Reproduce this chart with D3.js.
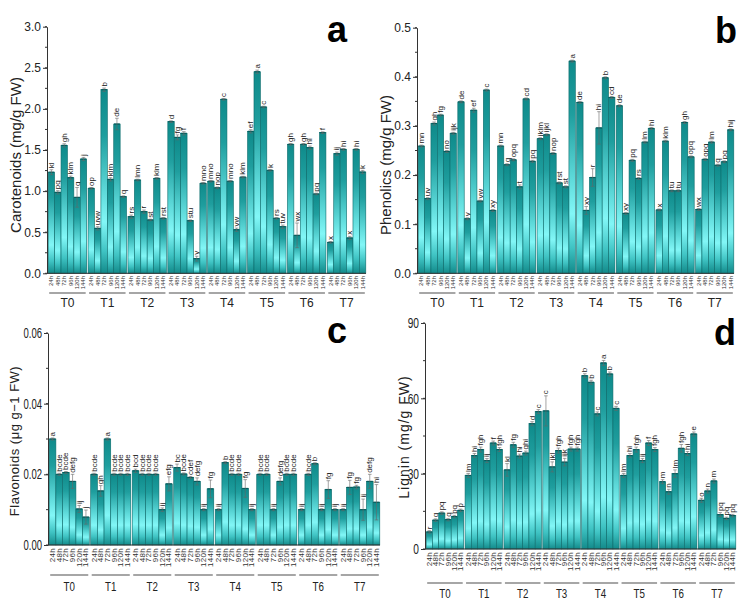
<!DOCTYPE html>
<html><head><meta charset="utf-8">
<script src="https://cdn.jsdelivr.net/npm/d3@7"></script>
<style>body{margin:0;background:#fff}svg{display:block}</style>
</head><body><svg id="c" width="754" height="613"></svg>
<script>
const groups = ["T0","T1","T2","T3","T4","T5","T6","T7"];
const times = ["24h","48h","72h","96h","120h","144h"];

// Panel a: Carotenoids (mg/g FW)
const carotenoids = [
  [1.23,0.985,1.556,1.163,0.924,1.39],
  [1.034,0.547,2.234,1.143,1.816,0.932],
  [0.689,1.135,0.75,0.649,1.155,0.669],
  [1.845,1.654,1.703,0.64,0.178,1.095],
  [1.12,1.04,2.117,1.12,0.53,1.17],
  [1.727,2.452,2.023,1.253,0.669,0.567],
  [1.569,0.462,1.569,1.528,0.965,1.711],
  [0.377,1.455,1.508,0.43,1.508,1.232]
];
const carotenoidsErr = [
  [0.03,0.02,0.02,0.02,0.12,0.02],
  [0.01,0.02,0.02,0.02,0.07,0.01],
  [0.02,0.01,0.02,0.01,0.01,0.01],
  [0.01,0.03,0.02,0.01,0.03,0.01],
  [0.01,0.01,0.01,0.01,0.02,0.01],
  [0.02,0.02,0.01,0.01,0.01,0.02],
  [0.01,0.15,0.01,0.02,0.01,0.01],
  [0.01,0.02,0.01,0.02,0.01,0.02]
];
const carotenoidsLetters = [
  ["kl","pq","gh","klm","q","j"],
  ["op","uvw","b","klm","de","q"],
  ["rs","lmn","r","st","klm","rst"],
  ["d","fg","f","stu","y","mno"],
  ["mno","nop","c","mno","vw","klm"],
  ["ef","a","c","k","rs","tuv"],
  ["gh","wx","gh","hi","pq","f"],
  ["x","ij","hi","x","hi","k"]
];

// Panel b: Phenolics (mg/g FW)
const phenolics = [
  [0.259,0.152,0.305,0.322,0.248,0.285],
  [0.349,0.111,0.332,0.147,0.373,0.128],
  [0.259,0.221,0.231,0.176,0.355,0.228],
  [0.274,0.282,0.244,0.184,0.176,0.432],
  [0.348,0.128,0.195,0.296,0.398,0.358],
  [0.341,0.122,0.23,0.193,0.267,0.295],
  [0.129,0.269,0.168,0.168,0.307,0.237],
  [0.13,0.232,0.267,0.22,0.227,0.292]
];
const phenolicsErr = [
  [0.002,0.002,0.003,0.002,0.002,0.002],
  [0.002,0.002,0.004,0.002,0.002,0.002],
  [0.002,0.002,0.002,0.004,0.002,0.002],
  [0.002,0.002,0.002,0.002,0.002,0.002],
  [0.002,0.008,0.018,0.033,0.002,0.002],
  [0.002,0.002,0.002,0.002,0.002,0.002],
  [0.002,0.002,0.002,0.002,0.002,0.002],
  [0.002,0.002,0.002,0.002,0.002,0.002]
];
const phenolicsLetters = [
  ["mn","uv","gh","fg","no","ijk"],
  ["de","y","ef","vw","c","xy"],
  ["mn","q","opq","t","cd","pq"],
  ["jklm","ijkl","nop","rst","st","a"],
  ["de","xy","r","hi","b","cd"],
  ["de","xy","pq","rs","lm","hi"],
  ["x","klm","tu","tu","gh","opq"],
  ["wx","opq","lm","q","pq","hij"]
];

// Panel c: Flavonoids
const flavonoids = [
  [0.030,0.020,0.0205,0.018,0.0102,0.0079],
  [0.020,0.0153,0.030,0.020,0.020,0.020],
  [0.021,0.020,0.020,0.020,0.010,0.0173],
  [0.0219,0.0201,0.0191,0.018,0.010,0.0159],
  [0.010,0.0233,0.020,0.020,0.016,0.010],
  [0.020,0.020,0.010,0.018,0.020,0.020],
  [0.010,0.020,0.023,0.010,0.0157,0.010],
  [0.010,0.0163,0.0164,0.010,0.018,0.0121]
];
const flavonoidsErr = [
  [0.0003,0.0003,0.0003,0.002,0.001,0.002],
  [0.0003,0.0015,0.0003,0.0003,0.0003,0.0003],
  [0.0005,0.0003,0.0003,0.0003,0.0005,0.002],
  [0.001,0.0003,0.0003,0.001,0.0003,0.0025],
  [0.0003,0.0003,0.0003,0.0003,0.0025,0.0003],
  [0.0003,0.0003,0.0003,0.001,0.0003,0.0003],
  [0.0003,0.0003,0.0003,0.0003,0.0025,0.0003],
  [0.0003,0.002,0.0005,0.003,0.002,0.005]
];
const flavonoidsLetters = [
  ["a","bcde","bcde","defg","ij","j"],
  ["bcde","gh","a","bcde","bcde","bcde"],
  ["bcd","bcde","bcde","bcde","ij","efg"],
  ["bc","bcde","cdef","defg","ij","fg"],
  ["ij","b","bcde","bcde","fg","ij"],
  ["bcde","bcde","ij","defg","bcde","bcde"],
  ["ij","bcde","b","ij","fg","ij"],
  ["ij","fg","fg","ij","defg","hi"]
];

// Panel d: Lignin (mg/g FW)
const lignin = [
  [6.8,11.5,14.3,11.7,12.9,15.4],
  [29.3,37.2,39.6,35.2,42.2,39.6],
  [31.5,41.5,37.0,38.2,49.9,54.7],
  [55.0,32.7,39.2,34.6,39.8,39.8],
  [69.0,66.4,53.8,74.1,69.7,56.0],
  [29.3,37.2,39.6,35.2,42.2,39.6],
  [26.8,22.8,30.0,40.1,38.0,45.8],
  [19.4,23.1,27.1,13.7,12.2,13.3]
];
const ligninErr = [
  [0.5,0.5,0.5,0.5,0.5,0.5],
  [0.8,0.8,1.0,0.8,0.8,0.8],
  [2.5,1.0,0.8,0.8,0.8,0.8],
  [6.0,2.0,1.0,1.5,0.8,0.8],
  [0.8,0.8,0.8,1.0,0.8,0.8],
  [0.8,0.8,1.0,0.8,1.0,0.8],
  [0.8,1.0,1.5,1.5,0.8,0.8],
  [0.8,0.8,0.8,0.8,0.5,0.5]
];
const ligninLetters = [
  ["r","q","pq","q","pq","p"],
  ["lm","hi","fgh","ij","f","fgh"],
  ["kl","fg","hi","ghi","d","c"],
  ["c","jkl","fgh","ijk","fgh","fgh"],
  ["b","b","c","a","b","c"],
  ["lm","hi","fgh","ij","f","fgh"],
  ["m","n","lm","fgh","hi","e"],
  ["o","n","m","pq","pq","pq"]
];

const svg = d3.select("#c");
svg.append("rect").attr("width",754).attr("height",613).attr("fill","#fff");
const defs = svg.append("defs");
const grad = defs.append("linearGradient").attr("id","bg")
  .attr("x1",0).attr("y1",0).attr("x2",0).attr("y2",1);
[[0,"#0e8a8a"],[0.25,"#1f9e9e"],[0.55,"#5dd9d9"],[0.72,"#82f7f7"],[0.88,"#3fc3c3"],[1,"#128a8a"]]
  .forEach(s=>grad.append("stop").attr("offset",s[0]).attr("stop-color",s[1]));

const SANS = "'Liberation Sans',Arial,sans-serif";

function drawPanel(p){
  const g = svg.append("g");
  const gx = d3.scaleBand().domain(groups).range([p.x0+1, p.x1]).paddingInner(0.035).paddingOuter(0.005);
  const bx = d3.scaleBand().domain(times).range([0, gx.bandwidth()]).padding(0);
  const y = d3.scaleLinear().domain([0,p.max]).range([p.y0,p.yTop]);

  groups.forEach((gn,gi)=>{
    const gg = g.append("g");
    times.forEach((t,ti)=>{
      const v = p.values[gi][ti], e = p.errors[gi][ti];
      const x = gx(gn)+bx(t), w = bx.bandwidth(), cx = x + w/2;
      gg.append("rect").attr("x",x).attr("y",y(v)).attr("width",w).attr("height",y(0)-y(v))
        .attr("fill","url(#bg)").attr("stroke","#0a6a6a").attr("stroke-width",0.6);
      gg.append("line").attr("x1",x+0.3).attr("x2",x+w-0.3).attr("y1",y(v)).attr("y2",y(v))
        .attr("stroke","#075c5c").attr("stroke-width",1.2);
      gg.append("line").attr("x1",cx).attr("x2",cx).attr("y1",y(v-e)).attr("y2",y(v+e))
        .attr("stroke","#666").attr("stroke-width",0.6);
      [v-e,v+e].forEach(ev=>gg.append("line").attr("x1",cx-1.8).attr("x2",cx+1.8).attr("y1",y(ev)).attr("y2",y(ev))
        .attr("stroke","#666").attr("stroke-width",0.6));
      gg.append("text").attr("transform",`translate(${cx},${y(v+e)-1.5}) rotate(-90)`)
        .attr("dominant-baseline","central").attr("text-anchor","start")
        .attr("font-family",SANS).attr("font-size",p.letterSize).attr("fill","#222")
        .text(p.letters[gi][ti]);
      gg.append("text").attr("transform",`translate(${cx},${p.tickY}) rotate(-90)`)
        .attr("dominant-baseline","central").attr("text-anchor","end")
        .attr("font-family",SANS).attr("font-size",p.tickSize).attr("fill","#333")
        .attr("letter-spacing",p.tickSpacing||0)
        .text(t);
    });
    g.append("line").attr("x1",gx(gn)+1).attr("x2",gx(gn)+gx.bandwidth()-1)
      .attr("y1",p.bracketY).attr("y2",p.bracketY).attr("stroke","#888").attr("stroke-width",1.4);
    g.append("text").attr("transform",`translate(${gx(gn)+gx.bandwidth()/2},${p.groupY}) scale(${p.groupScale},1)`)
      .attr("text-anchor","middle").attr("font-family",SANS).attr("font-size",p.groupSize)
      .attr("fill","#222").text(gn);
  });

  g.append("line").attr("x1",p.x0).attr("x2",p.x1).attr("y1",p.y0).attr("y2",p.y0)
    .attr("stroke","#333").attr("stroke-width",1);

  const minor = d3.range(0, p.max+1e-9, p.minor);
  const ax = g.append("g").attr("transform",`translate(${p.x0},0)`)
    .call(d3.axisLeft(y).tickValues(p.major).tickFormat(p.fmt).tickSize(4).tickSizeOuter(0));
  ax.select(".domain").attr("stroke","#333");
  ax.selectAll(".tick line").attr("stroke","#333");
  ax.selectAll(".tick text").attr("font-family",SANS).attr("font-size",p.axisSize).attr("fill","#222")
    .attr("x",-6/p.axisScale).attr("transform",`scale(${p.axisScale},1)`);
  minor.forEach(m=>{
    g.append("line").attr("x1",p.x0-2).attr("x2",p.x0).attr("y1",y(m)).attr("y2",y(m)).attr("stroke","#333");
  });

  g.append("text").attr("transform",`translate(${p.ylx},${p.yly}) rotate(-90)`)
    .attr("text-anchor","middle").attr("font-family",SANS).attr("font-size",p.ylabelSize)
    .attr("letter-spacing",p.ylabelSpacing||0).attr("fill","#222").text(p.ylabel);

  g.append("text").attr("x",p.tx).attr("y",p.ty).attr("text-anchor","middle")
    .attr("font-family",SANS).attr("font-weight","bold").attr("font-size",36).attr("fill","#000").text(p.title);
}

drawPanel({values:carotenoids,errors:carotenoidsErr,letters:carotenoidsLetters,
  x0:47,x1:366,y0:273.3,yTop:26.7,max:3.0,major:[0,0.5,1,1.5,2,2.5,3],minor:0.25,fmt:d3.format(".1f"),
  axisSize:12,axisScale:1,letterSize:8,tickSize:6,tickY:276,
  bracketY:293,groupY:307,groupSize:12,groupScale:1,
  ylabel:"Carotenoids (mg/g FW)",ylx:21,yly:155,ylabelSize:15,
  title:"a",tx:337,ty:42});

drawPanel({values:phenolics,errors:phenolicsErr,letters:phenolicsLetters,
  x0:417,x1:734,y0:273.3,yTop:27.7,max:0.5,major:[0,0.1,0.2,0.3,0.4,0.5],minor:0.05,fmt:d3.format(".1f"),
  axisSize:12,axisScale:1,letterSize:8,tickSize:6,tickY:276,
  bracketY:293,groupY:307,groupSize:12,groupScale:1,
  ylabel:"Phenolics (mg/g FW)",ylx:391,yly:165,ylabelSize:15,
  title:"b",tx:726,ty:43});

drawPanel({values:flavonoids,errors:flavonoidsErr,letters:flavonoidsLetters,
  x0:48,x1:380,y0:545,yTop:333,max:0.06,major:[0,0.02,0.04,0.06],minor:0.01,fmt:d3.format(".2f"),
  axisSize:14,axisScale:0.68,letterSize:8,tickSize:8,tickY:548,tickSpacing:0.3,
  bracketY:575,groupY:591,groupSize:13,groupScale:0.75,
  ylabel:"Flavonoids (μg g−1 FW)",ylx:19,yly:441,ylabelSize:13,ylabelSpacing:0.5,
  title:"c",tx:337,ty:343});

drawPanel({values:lignin,errors:ligninErr,letters:ligninLetters,
  x0:425,x1:736,y0:549,yTop:323,max:90,major:[0,30,60,90],minor:15,fmt:d3.format("d"),
  axisSize:15,axisScale:0.68,letterSize:8,tickSize:8,tickY:552,tickSpacing:0.3,
  bracketY:583,groupY:598,groupSize:13,groupScale:0.75,
  ylabel:"Lignin (mg/g FW)",ylx:409,yly:437,ylabelSize:14,ylabelSpacing:1,
  title:"d",tx:725,ty:345});
</script>
</body></html>
